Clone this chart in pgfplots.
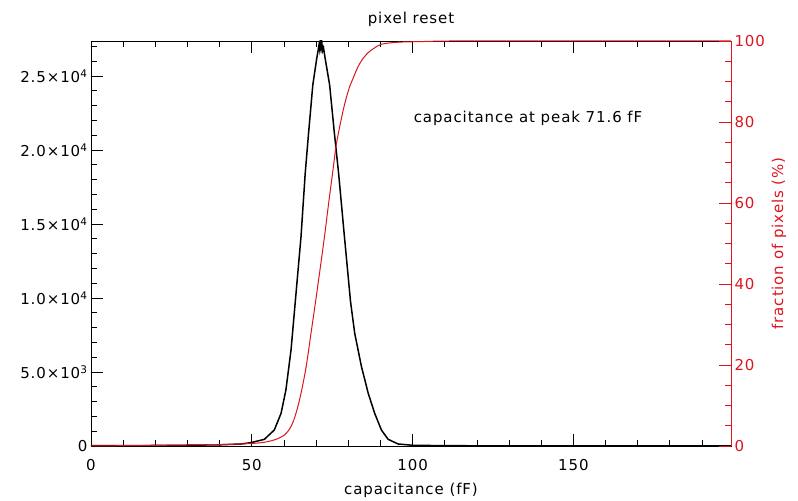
\documentclass[border=0pt]{standalone}
\usepackage{pgfplots}
\pgfplotsset{compat=1.18}
\usepackage{fontspec}
\setmainfont{DejaVu Sans}[LetterSpace=6]
\definecolor{idlred}{RGB}{220,20,30}
\newcommand{\tfont}{\fontsize{15}{16}\selectfont}
\begin{document}
\begin{tikzpicture}
\begin{axis}[
  scale only axis, width=640pt, height=405pt,
  xmin=0, xmax=199, ymin=0, ymax=27360,
  scaled y ticks=false,
  xtick={0,50,100,150}, minor xtick={10,20,30,40,60,70,80,90,110,120,130,140,160,170,180,190},
  ytick={0,5000,10000,15000,20000,25000},
  minor ytick={1000,2000,3000,4000,6000,7000,8000,9000,11000,12000,13000,14000,16000,17000,18000,19000,21000,22000,23000,24000,26000,27000},
  yticklabels={0,{5.0×10\textsuperscript{3}},{1.0×10\textsuperscript{4}},{1.5×10\textsuperscript{4}},{2.0×10\textsuperscript{4}},{2.5×10\textsuperscript{4}}},
  xticklabels={0,50,100,150},
  ytick pos=left, xtick pos=both, xticklabel pos=bottom,
  tick align=inside,
  major tick length=12pt, minor tick length=6pt,
  tick style={black, line width=0.8pt},
  axis line style={line width=0.8pt},
  tick label style={font=\tfont},
  x tick label style={yshift=-10pt},
  /pgf/number format/assume math mode=true,
  xlabel={capacitance (fF)},
  xlabel style={font=\tfont, yshift=-5pt},
  title={pixel reset},
  title style={font=\tfont, yshift=5pt},
]
\addplot[black, line width=1.5pt] coordinates {
(0,20) (10,25) (20,35) (30,50) (40,80) (46.6,135) (49.7,225) (53.9,450) (57.0,1080)
(59.1,2210) (60.6,3780) (62.2,6490) (63.5,9700) (65.3,14140) (66.6,18400) (67.6,21010)
(68.97,24390) (70.2,26200) (70.6,26700) (70.9,27100) (71.1,26800) (71.35,27360) (71.55,26950)
(71.75,27300) (72.0,26700) (72.3,26900) (72.8,26200) (74.2,24390) (75.6,21300) (77.0,18400)
(78.8,14140) (80.7,9750) (82.0,7610) (84.1,5360) (86.2,3560) (88.2,2210) (90.3,1080)
(92.4,450) (95.5,135) (100,50) (110,20) (130,10) (160,5) (199,3)
};
\end{axis}
\begin{axis}[
  scale only axis, width=640pt, height=405pt,
  xmin=0, xmax=199, ymin=0, ymax=100,
  axis x line=none, axis y line*=right,
  ytick={0,20,40,60,80,100},
  minor ytick={5,10,15,25,30,35,45,50,55,65,70,75,85,90,95},
  tick align=inside,
  major tick length=12pt, minor tick length=6pt,
  tick style={idlred, line width=0.8pt},
  axis line style={idlred, line width=0.8pt},
  y tick label style={font=\tfont, color=idlred},
  /pgf/number format/assume math mode=true,
  ylabel={fraction of pixels (\%)},
  ylabel style={font=\tfont, color=idlred},
  clip=false,
]
\addplot[idlred, line width=1pt, smooth] coordinates {
(0,0.0) (10,0.08) (20,0.15) (30,0.25) (40,0.35) (46.6,0.5) (52.8,0.8) (57.0,1.5) (60.1,2.7)
(62.2,4.8) (63.75,8.1) (65.3,13.0) (66.9,19.6) (68.4,27.8) (69.8,35.5) (71.2,43.5) (72.6,51.7)
(73.9,60) (75.2,67.9) (76.25,74.3) (77.5,79.5) (78.8,84.2) (80.2,88.2) (81.5,90.8) (83,93.6)
(84.6,95.7) (86.3,97.2) (88,98.2) (90.3,99.2) (95.5,99.7) (105,99.9) (112,100) (150,100) (199,100)
};
\node[font=\tfont, anchor=west, inner sep=0pt] at (axis cs:100.3,81) {capacitance at peak 71.6 fF};
\end{axis}
\path (-91pt,-49pt) rectangle (707pt,446pt);
\end{tikzpicture}
\end{document}
